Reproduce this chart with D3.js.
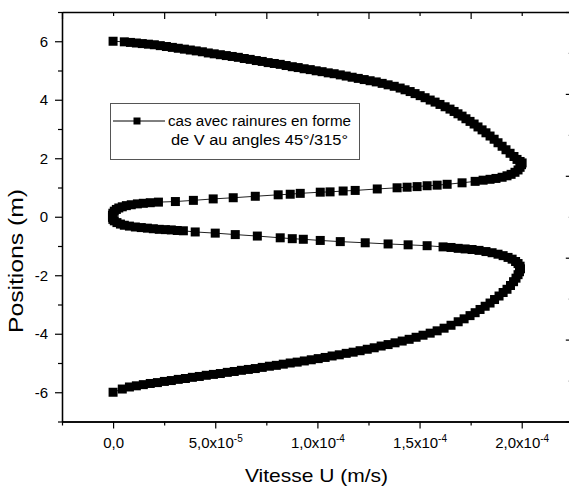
<!DOCTYPE html>
<html>
<head>
<meta charset="utf-8">
<script src="https://cdn.jsdelivr.net/npm/d3@7"></script>
<style>
  body { margin: 0; background: #fff; }
  svg { display: block; }
  text { font-family: "Liberation Sans", Arial, sans-serif; fill: #000; }
</style>
</head>
<body>
<svg id="chart" width="569" height="492"></svg>
<script>
// rows are [position (m), velocity U (x1e-5 m/s)]
var upperOuter = [
  [6.00,0.00],[5.98,0.55],[5.96,0.85],[5.94,1.14],[5.92,1.43],[5.90,1.73],[5.88,2.02],[5.85,2.31],
  [5.82,2.61],[5.79,2.90],[5.76,3.19],[5.73,3.49],[5.70,3.78],[5.67,4.07],[5.64,4.37],[5.60,4.66],
  [5.57,4.95],[5.54,5.25],[5.51,5.54],[5.48,5.83],[5.45,6.13],[5.41,6.42],[5.38,6.71],[5.34,7.01],
  [5.31,7.30],[5.27,7.59],[5.24,7.89],[5.21,8.18],[5.17,8.47],[5.13,8.77],[5.10,9.06],[5.06,9.35],
  [5.03,9.65],[4.99,9.94],[4.96,10.23],[4.92,10.53],[4.89,10.82],[4.85,11.12],[4.81,11.41],[4.77,11.70],
  [4.73,12.00],[4.69,12.29],[4.65,12.58],[4.61,12.88],[4.56,13.17],[4.51,13.46],[4.46,13.76],[4.40,14.05],
  [4.34,14.29],[4.28,14.54],[4.21,14.78],[4.14,15.03],[4.07,15.27],[3.99,15.52],[3.92,15.76],[3.84,16.00],
  [3.76,16.25],[3.68,16.49],[3.60,16.69],[3.52,16.88],[3.44,17.08],[3.35,17.27],[3.26,17.47],[3.17,17.67],
  [3.07,17.86],[2.97,18.06],[2.87,18.25],[2.76,18.45],[2.65,18.65],[2.53,18.84],[2.41,19.04],[2.29,19.23],
  [2.17,19.43],[2.06,19.62],[1.96,19.77],[1.89,19.92],[1.84,20.02]
];

var upperInner = [
  [1.78,19.99],[1.69,19.92],[1.60,19.82],[1.52,19.67],[1.45,19.48],[1.40,19.28],[1.35,19.04],[1.31,18.74],
  [1.28,18.45],[1.25,18.11],[1.21,17.72],[1.16,17.08],[1.11,16.35],[1.08,15.86],[1.06,15.37],[1.03,14.88],
  [1.01,14.39],[0.99,13.90],[0.95,12.93],[0.90,11.85],[0.88,11.26],[0.85,10.62],[0.84,10.14],[0.80,9.16],
  [0.77,8.67],[0.75,8.08],[0.70,6.96],[0.65,5.88],[0.61,4.90],[0.56,3.93],[0.52,3.05],[0.50,2.22],
  [0.48,1.82],[0.46,1.48],[0.44,1.19],[0.41,0.89],[0.38,0.65],[0.34,0.45],[0.30,0.28],[0.25,0.16],
  [0.19,0.06],[0.12,-0.01],[0.05,-0.03]
];

var lowerInner = [
  [-0.02,-0.03],[-0.09,-0.01],[-0.14,0.06],[-0.20,0.19],[-0.25,0.36],[-0.29,0.55],[-0.32,0.80],[-0.35,1.09],
  [-0.37,1.38],[-0.39,1.68],[-0.41,1.97],[-0.43,2.26],[-0.44,2.56],[-0.45,2.85],[-0.47,3.14],[-0.48,3.44],
  [-0.52,4.02],[-0.56,5.00],[-0.61,5.98],[-0.66,7.06],[-0.72,8.18],[-0.75,8.77],[-0.77,9.31],[-0.81,10.14],
  [-0.85,11.12],[-0.89,12.34],[-0.93,13.46],[-0.96,14.44],[-0.99,15.37],[-1.03,16.15],[-1.05,16.54],[-1.08,16.89],
  [-1.10,17.23],[-1.12,17.57],[-1.15,17.91],[-1.19,18.25],[-1.23,18.55],[-1.28,18.84],[-1.33,19.09],[-1.39,19.33],
  [-1.45,19.53],[-1.53,19.70],[-1.60,19.82],[-1.69,19.92],[-1.78,19.94]
];

var lowerOuter = [
  [-1.88,19.89],[-1.98,19.82],[-2.10,19.72],[-2.22,19.60],[-2.35,19.45],[-2.48,19.28],[-2.59,19.09],[-2.71,18.89],
  [-2.83,18.67],[-2.95,18.45],[-3.06,18.21],[-3.17,17.96],[-3.28,17.72],[-3.38,17.47],[-3.49,17.18],[-3.59,16.89],
  [-3.71,16.54],[-3.81,16.20],[-3.90,15.86],[-3.98,15.52],[-4.05,15.17],[-4.12,14.83],[-4.19,14.49],[-4.25,14.15],
  [-4.31,13.80],[-4.37,13.46],[-4.42,13.12],[-4.48,12.78],[-4.53,12.44],[-4.58,12.09],[-4.63,11.75],[-4.67,11.41],
  [-4.72,11.07],[-4.76,10.72],[-4.81,10.38],[-4.85,10.04],[-4.89,9.70],[-4.93,9.36],[-4.97,9.01],[-5.00,8.67],
  [-5.04,8.33],[-5.08,7.99],[-5.11,7.65],[-5.15,7.30],[-5.19,6.96],[-5.22,6.62],[-5.25,6.28],[-5.29,5.93],
  [-5.32,5.59],[-5.36,5.25],[-5.39,4.91],[-5.42,4.56],[-5.46,4.22],[-5.49,3.88],[-5.53,3.54],[-5.56,3.19],
  [-5.60,2.85],[-5.63,2.51],[-5.67,2.17],[-5.70,1.82],[-5.74,1.48],[-5.78,1.14],[-5.82,0.80],[-5.89,0.45],
  [-6.00,0.00]
];

var xMajor = [0, 5e-5, 1e-4, 1.5e-4, 2e-4];
var xMinor = [-2.5e-5, 2.5e-5, 7.5e-5, 1.25e-4, 1.75e-4, 2.25e-4];
var xMantissa = ["0,0", "5,0", "1,0", "1,5", "2,0"];
var xExponent = ["", "-5", "-4", "-4", "-4"];
var yMajor = [-6, -4, -2, 0, 2, 4, 6];
var yMinor = [-7, -5, -3, -1, 1, 3, 5, 7];
var legendLines = ["cas avec rainures en forme", "de V au angles 45°/315°"];

var svg = d3.select("#chart");
var plotLeft = 62, plotRight = 572.8, plotTop = 12, plotBottom = 421.5;

var x = d3.scaleLinear().domain([-2.5e-5, 2.25e-4]).range([plotLeft, plotRight]);
var y = d3.scaleLinear().domain([-7, 7]).range([plotBottom, plotTop]);
// the top and right frame axes carry their own 5-step scales
var xTop = d3.scaleLinear().domain([0, 5]).range([plotLeft, plotRight]);
var yRight = d3.scaleLinear().domain([0, 5]).range([plotTop, plotBottom]);

var data = upperOuter.concat(upperInner, lowerInner, lowerOuter)
  .map(d => ({ pos: d[0], u: d[1] * 1e-5 }));

// axes
function styleAxis(g) {
  g.selectAll("path.domain").attr("stroke", "#000").attr("stroke-width", 1.3);
  g.selectAll(".tick line").attr("stroke", "#000").attr("stroke-width", 1.2);
}

svg.append("g")
  .attr("transform", `translate(0,${plotBottom})`)
  .call(d3.axisBottom(x).tickValues(xMinor).tickSize(4).tickSizeOuter(0).tickFormat(""))
  .call(styleAxis);

var gx = svg.append("g")
  .attr("transform", `translate(0,${plotBottom})`)
  .call(d3.axisBottom(x).tickValues(xMajor).tickSize(7).tickSizeOuter(0).tickPadding(9)
    .tickFormat((d, i) => xMantissa[i]))
  .call(styleAxis);
gx.selectAll(".tick text")
  .attr("font-size", 15)
  .attr("font-family", "Liberation Sans, Arial, sans-serif")
  .each(function(d, i) {
    if (!xExponent[i]) return;
    var t = d3.select(this);
    t.text(xMantissa[i] + "x10");
    t.append("tspan").attr("dy", -6).attr("font-size", 10).text(xExponent[i]);
  });

svg.append("g")
  .attr("transform", `translate(${plotLeft},0)`)
  .call(d3.axisLeft(y).tickValues(yMinor).tickSize(4).tickSizeOuter(0).tickFormat(""))
  .call(styleAxis);

var gy = svg.append("g")
  .attr("transform", `translate(${plotLeft},0)`)
  .call(d3.axisLeft(y).tickValues(yMajor).tickSize(7).tickSizeOuter(0).tickPadding(7)
    .tickFormat(d => String(d)))
  .call(styleAxis);
gy.selectAll(".tick text")
  .attr("font-size", 15)
  .attr("font-family", "Liberation Sans, Arial, sans-serif");

var frameTicks = d3.range(0, 5.01, 0.5);
svg.append("g")
  .attr("transform", `translate(0,${plotTop})`)
  .call(d3.axisBottom(xTop).tickValues(frameTicks)
    .tickSize(1).tickSizeOuter(0).tickFormat(""))
  .call(styleAxis)
  .selectAll(".tick line")
  .attr("y2", d => Number.isInteger(d) ? 7 : 4);

svg.append("g")
  .attr("transform", `translate(${plotRight},0)`)
  .call(d3.axisLeft(yRight).tickValues(frameTicks)
    .tickSize(1).tickSizeOuter(0).tickFormat(""))
  .call(styleAxis)
  .selectAll(".tick line")
  .attr("x2", d => Number.isInteger(d) ? -7 : -4);

// series
var line = d3.line().x(d => x(d.u)).y(d => y(d.pos));
svg.append("path")
  .datum(data)
  .attr("fill", "none")
  .attr("stroke", "#222")
  .attr("stroke-width", 1)
  .attr("d", line);

var ms = 9;
svg.append("g")
  .selectAll("rect")
  .data(data)
  .enter()
  .append("rect")
  .attr("x", d => x(d.u) - ms / 2)
  .attr("y", d => y(d.pos) - ms / 2)
  .attr("width", ms)
  .attr("height", ms)
  .attr("fill", "#000");

// legend
var lg = svg.append("g");
lg.append("rect")
  .attr("x", 110.5).attr("y", 103.5).attr("width", 249).attr("height", 56)
  .attr("fill", "#fff").attr("stroke", "#555").attr("stroke-width", 1);
lg.append("line")
  .attr("x1", 113).attr("x2", 165).attr("y1", 121).attr("y2", 121)
  .attr("stroke", "#000").attr("stroke-width", 1);
lg.append("rect")
  .attr("x", 137 - 3.5).attr("y", 121 - 3.5).attr("width", 7).attr("height", 7)
  .attr("fill", "#000");
lg.selectAll("text.leg")
  .data(legendLines)
  .enter()
  .append("text")
  .attr("class", "leg")
  .attr("x", (d, i) => i === 0 ? 168 : 171)
  .attr("y", (d, i) => i === 0 ? 126 : 145)
  .attr("font-size", 14)
  .attr("textLength", (d, i) => i === 0 ? 183 : 177)
  .attr("lengthAdjust", "spacingAndGlyphs")
  .text(d => d);

// axis titles
svg.append("text")
  .attr("x", 316.5).attr("y", 482)
  .attr("text-anchor", "middle")
  .attr("font-size", 19)
  .attr("textLength", 143)
  .attr("lengthAdjust", "spacingAndGlyphs")
  .text("Vitesse U (m/s)");

svg.append("text")
  .attr("transform", "translate(23,261) rotate(-90)")
  .attr("text-anchor", "middle")
  .attr("font-size", 20)
  .attr("textLength", 144)
  .attr("lengthAdjust", "spacingAndGlyphs")
  .text("Positions (m)");
</script>
</body>
</html>
